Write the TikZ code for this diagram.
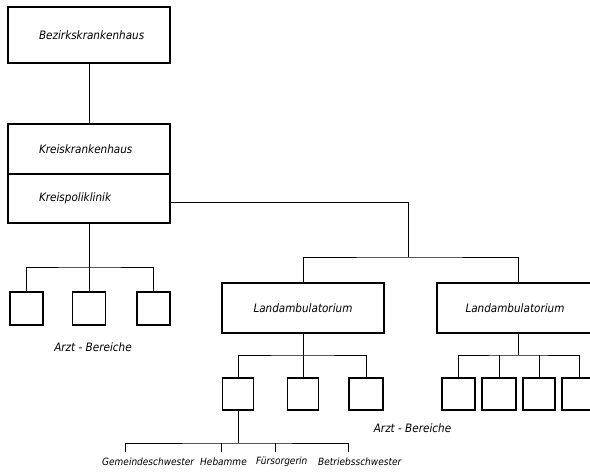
\documentclass[tikz,border=0pt]{standalone}
\usepackage{fontspec}
\setmainfont{Liberation Sans}
\newfontfamily\condfont{DejaVu Sans Condensed}
\begin{document}
\begin{tikzpicture}[x=1pt,y=-1pt,
  box/.style={draw, line width=1.1pt, inner sep=0pt, font=\condfont\itshape\fontsize{11.6}{13}\selectfont},
  bigbox/.style={box, minimum width=162pt},
  leftbox/.style={box, align=left, text width=100pt, inner xsep=31pt},
  smallbox/.style={box, minimum width=33pt, minimum height=33pt},
  conn/.style={line width=0.7pt},
  lbl/.style={inner sep=0pt, font=\condfont\itshape\fontsize{11.6}{13}\selectfont},
  sublbl/.style={inner sep=0pt, font=\condfont\itshape\fontsize{10}{12}\selectfont}]
\useasboundingbox (0,0) rectangle (590,472);
\clip (0,0) rectangle (590,472);
\fill[white] (0,0) rectangle (590,472);
% top boxes
\node[leftbox, minimum height=56pt] (bez) at (89,35) {Bezirkskrankenhaus};
\node[leftbox, minimum height=50pt] (kk) at (89,149) {Kreiskrankenhaus};
\node[leftbox, minimum height=49pt] (kp) at (89,198.5) {Kreispoliklinik};
% Landambulatorien
\node[bigbox, minimum height=50pt] (la1) at (303,308) {Landambulatorium};
\node[bigbox, minimum height=50pt] (la2) at (518,308) {\hspace*{-6pt}Landambulatorium};
% Arzt-Bereiche left
\node[smallbox] (a1) at (26.5,308.5) {};
\node[smallbox] (a2) at (89,308.5) {};
\node[smallbox] (a3) at (153.5,308.5) {};
% middle
\node[smallbox, minimum height=32pt, minimum width=31pt] (b1) at (238,394) {};
\node[smallbox, minimum height=32pt, minimum width=31pt] (b2) at (303,394) {};
\node[smallbox, minimum height=32pt, minimum width=34pt] (b3) at (366,394) {};
% right
\node[smallbox, minimum height=32pt] (c1) at (458.5,394) {};
\node[smallbox, minimum height=32pt, minimum width=34pt] (c2) at (499,394) {};
\node[smallbox, minimum height=32pt, minimum width=32pt] (c3) at (539,394) {};
\node[smallbox, minimum height=32pt, minimum width=34pt] (c4) at (579,394) {};
% labels
\node[lbl] (ab1) at (93,347) {Arzt - Bereiche};
\node[lbl] (ab2) at (412.5,428) {Arzt - Bereiche};
\node[sublbl, anchor=west] (g1) at (102,462) {Gemeindeschwester};
\node[sublbl, anchor=west] (g2) at (200,462) {Hebamme};
\node[sublbl, anchor=west] (g3) at (256,462) {Fürsorgerin};
\node[sublbl, anchor=west] (g4) at (318,462) {Betriebsschwester};
% coordinates
\coordinate (j1) at (408,257);
\coordinate (h1) at (89,267);
\coordinate (h2) at (303,355);
\coordinate (h3) at (518,355);
\coordinate (h4) at (238,443);
\coordinate (t1) at (125,452);
\coordinate (t2) at (221,452);
\coordinate (t3) at (275,452);
\coordinate (t4) at (348,452);
% connectors
\draw[conn] (bez.south) -- (kk.north);
\draw[conn] ([yshift=-3.5pt]kp.east) -| (j1);
\draw[conn] (la1.north) |- (j1) -| (la2.north);
\draw[conn] (kp.south) -- (a2.north);
\draw[conn] (a1.north) |- (h1) -| (a3.north);
\draw[conn] (la1.south) -- (b2.north);
\draw[conn] (b1.north) |- (h2) -| (b3.north);
\draw[conn] (la2.south) -- (h3);
\draw[conn] (c1.north) |- (h3) -| (c4.north);
\draw[conn] (c2.north) -- (c2.north |- h3);
\draw[conn] (c3.north) -- (c3.north |- h3);
\draw[conn] (b1.south) -- (h4);
\draw[conn] (t1) |- (h4) -| (t4);
\draw[conn] (t2) -- (t2 |- h4);
\draw[conn] (t3) -- (t3 |- h4);
\end{tikzpicture}
\end{document}
